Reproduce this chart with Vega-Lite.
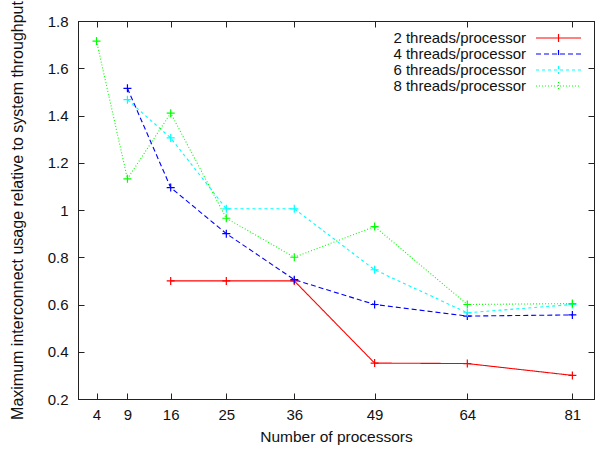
{
  "$schema": "https://vega.github.io/schema/vega-lite/v6.json",
  "width": 516,
  "height": 378,
  "autosize": {"type": "none"},
  "padding": {"left": 78, "top": 21, "right": 1, "bottom": 50},
  "config": {
    "font": "Liberation Sans",
    "view": {"stroke": "#000", "strokeWidth": 1},
    "axis": {
      "grid": false,
      "domainColor": "#222",
      "tickColor": "#222",
      "labelColor": "#111",
      "titleColor": "#111",
      "labelFont": "Liberation Sans",
      "titleFont": "Liberation Sans",
      "labelFontSize": 15,
      "titleFontSize": 15.5,
      "titleFontWeight": "normal",
      "tickSize": -6
    },
    "legend": {
      "orient": "none",
      "legendX": 292,
      "legendY": 9,
      "labelFont": "Liberation Sans",
      "labelFontSize": 15,
      "labelColor": "#111",
      "labelAlign": "right",
      "labelLimit": 300,
      "rowPadding": -1.5,
      "symbolStrokeWidth": 1.2,
      "symbolType": "M22.57,0L29,0M25.79,-0.57L25.79,0.57",
      "symbolSize": 196,
      "labelOffset": 140,
      "padding": 0
    }
  },
  "data": {
    "values": [
      {"p": 16, "v": 0.70, "series": "2 threads/processor"},
      {"p": 25, "v": 0.70, "series": "2 threads/processor"},
      {"p": 36, "v": 0.70, "series": "2 threads/processor"},
      {"p": 49, "v": 0.352, "series": "2 threads/processor"},
      {"p": 64, "v": 0.35, "series": "2 threads/processor"},
      {"p": 81, "v": 0.30, "series": "2 threads/processor"},
      {"p": 9, "v": 1.515, "series": "4 threads/processor"},
      {"p": 16, "v": 1.095, "series": "4 threads/processor"},
      {"p": 25, "v": 0.90, "series": "4 threads/processor"},
      {"p": 36, "v": 0.705, "series": "4 threads/processor"},
      {"p": 49, "v": 0.60, "series": "4 threads/processor"},
      {"p": 64, "v": 0.551, "series": "4 threads/processor"},
      {"p": 81, "v": 0.556, "series": "4 threads/processor"},
      {"p": 9, "v": 1.467, "series": "6 threads/processor"},
      {"p": 16, "v": 1.305, "series": "6 threads/processor"},
      {"p": 25, "v": 1.005, "series": "6 threads/processor"},
      {"p": 36, "v": 1.005, "series": "6 threads/processor"},
      {"p": 49, "v": 0.747, "series": "6 threads/processor"},
      {"p": 64, "v": 0.565, "series": "6 threads/processor"},
      {"p": 81, "v": 0.60, "series": "6 threads/processor"},
      {"p": 4, "v": 1.715, "series": "8 threads/processor"},
      {"p": 9, "v": 1.132, "series": "8 threads/processor"},
      {"p": 16, "v": 1.41, "series": "8 threads/processor"},
      {"p": 25, "v": 0.965, "series": "8 threads/processor"},
      {"p": 36, "v": 0.80, "series": "8 threads/processor"},
      {"p": 49, "v": 0.93, "series": "8 threads/processor"},
      {"p": 64, "v": 0.60, "series": "8 threads/processor"},
      {"p": 81, "v": 0.604, "series": "8 threads/processor"}
    ]
  },
  "layer": [
    {
      "mark": {"type": "line", "strokeWidth": 1.1},
      "encoding": {
        "x": {
          "field": "p", "type": "quantitative",
          "scale": {"domain": [1, 84.5], "nice": false, "zero": false},
          "axis": {"values": [4, 9, 16, 25, 36, 49, 64, 81], "title": "Number of processors", "labelPadding": 14, "titlePadding": 7, "labelFlush": false}
        },
        "y": {
          "field": "v", "type": "quantitative",
          "scale": {"domain": [0.2, 1.8], "nice": false, "zero": false},
          "axis": {"values": [0.2, 0.4, 0.6, 0.8, 1.0, 1.2, 1.4, 1.6, 1.8], "format": "~g", "title": "Maximum interconnect usage relative to system throughput", "titleFontSize": 16, "labelPadding": 16, "titlePadding": 21.5, "labelFlush": false}
        },
        "color": {
          "field": "series", "type": "nominal",
          "scale": {"domain": ["2 threads/processor", "4 threads/processor", "6 threads/processor", "8 threads/processor"], "range": ["#ff0000", "#0000ff", "#00ffff", "#00ff00"]},
          "legend": {"title": null}
        },
        "strokeDash": {
          "field": "series", "type": "nominal",
          "scale": {"domain": ["2 threads/processor", "4 threads/processor", "6 threads/processor", "8 threads/processor"], "range": [[1, 0], [5, 3], [3, 3], [1, 2]]},
          "legend": {"title": null}
        }
      }
    },
    {
      "mark": {"type": "point", "shape": "M-1,0L1,0M0,-1L0,1", "filled": false, "size": 64, "strokeWidth": 1.2, "opacity": 1},
      "encoding": {
        "x": {"field": "p", "type": "quantitative", "axis": null},
        "y": {"field": "v", "type": "quantitative", "axis": null},
        "color": {"field": "series", "type": "nominal", "legend": null}
      }
    },
    {
      "mark": {"type": "point", "opacity": 0},
      "encoding": {
        "x": {"field": "p", "type": "quantitative", "axis": {"orient": "top", "values": [4, 9, 16, 25, 36, 49, 64, 81], "labels": false, "title": null}},
        "y": {"field": "v", "type": "quantitative", "axis": {"orient": "right", "values": [0.2, 0.4, 0.6, 0.8, 1.0, 1.2, 1.4, 1.6, 1.8], "labels": false, "title": null}}
      }
    }
  ],
  "resolve": {"axis": {"x": "independent", "y": "independent"}}
}
